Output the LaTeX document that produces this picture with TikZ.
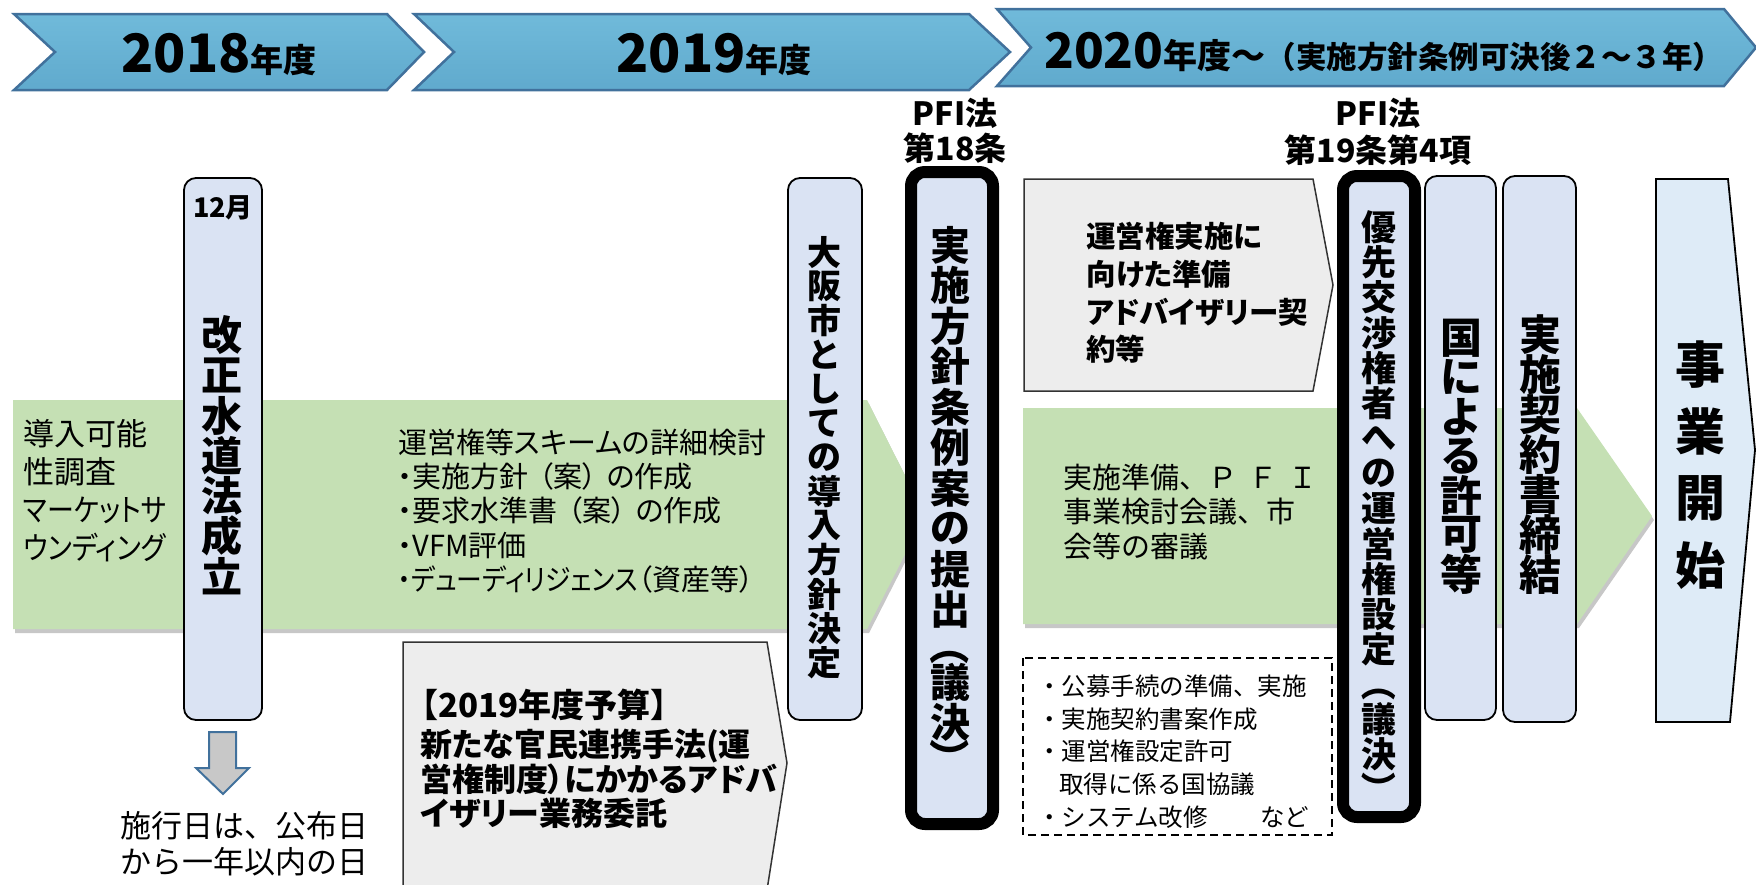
\documentclass[tikz,border=0pt]{standalone}
\usepackage{graphicx}
\usepackage{fontspec}
\setmainfont{Noto Sans CJK JP}
\newfontfamily\jpp{Noto Sans CJK JP}[RawFeature=+palt]
\definecolor{hdrfill}{RGB}{112,186,218}
\definecolor{hdrfillb}{RGB}{96,170,205}
\definecolor{hdrline}{RGB}{65,113,156}
\definecolor{boxblue}{RGB}{218,227,243}
\definecolor{boxbluel}{RGB}{222,235,247}
\definecolor{bandgreen}{RGB}{197,224,180}
\definecolor{graybox}{RGB}{237,237,237}
\definecolor{arrowgray}{RGB}{200,200,200}
\newdimen\vtxstep
\newdimen\vtxhalf
\def\vtxloop#1{\ifx#1\relax\else\vtxitem{#1}\expandafter\vtxloop\fi}
\def\vtxcell#1#2{\hbox to 2em{\hss\vbox to #1{\vss\hbox{#2}\vss}\hss}}
\def\vtxitem#1{\ifx#1（\vtxcell\vtxhalf{\rotatebox[origin=c]{-90}{#1}}\else\ifx#1）\vtxcell\vtxhalf{\rotatebox[origin=c]{-90}{#1}}\else\vtxcell\vtxstep{#1}\fi\fi}
\newcommand\vtx[3]{\vtxstep=#1\relax\vtxhalf=#2\relax\vbox{\offinterlineskip\vtxloop#3\relax}}
\tikzset{
  chev/.style={top color=hdrfill, bottom color=hdrfillb, draw=hdrline, line width=2.5pt},
  band/.style={fill=bandgreen},
  bandshadow/.style={fill=black, opacity=0.22},
  rbox/.style={draw=black, line width=1.8pt, fill=boxblue, rounded corners=12pt},
  kbox/.style={draw=black, line width=12pt, fill=boxblue, rounded corners=14pt},
  gbox/.style={draw=black!80, line width=1.5pt, fill=graybox},
  vlabel/.style={inner sep=0pt, anchor=north},
  txt/.style={inner sep=0pt, anchor=north west, align=left},
}
\begin{document}
\begin{tikzpicture}[x=1pt,y=-1pt]
\useasboundingbox (0,0) rectangle (1756,884);
% header chevrons
\path[chev] (14,14) -- (387,14) -- (424,52) -- (387,90) -- (14,90) -- (55,52) -- cycle;
\path[chev] (414,14) -- (969,14) -- (1010,52) -- (969,90) -- (414,90) -- (454,52) -- cycle;
\path[chev] (997,9) -- (1724,9) -- (1756,47.5) -- (1724,86) -- (997,86) -- (1031,47.5) -- cycle;
\node[inner sep=0, anchor=base] (h1) at (219,72) {\bfseries\fontsize{53}{60}\selectfont 2018\fontsize{33}{40}\selectfont 年度};
\node[inner sep=0, anchor=base] (h2) at (714,72) {\bfseries\fontsize{53}{60}\selectfont 2019\fontsize{33}{40}\selectfont 年度};
\node[inner sep=0, anchor=base west] (h3) at (1044,68) {\bfseries\fontsize{49}{56}\selectfont 2020\fontsize{34}{40}\selectfont 年度～\fontsize{30.5}{34}\selectfont （実施方針条例可決後２～３年）};
% green bands
\fill[bandshadow] (15,404) -- (869,404) -- (927,519) -- (869,633) -- (15,633) -- cycle;
\fill[band] (13,400) -- (867,400) -- (925,515) -- (867,629) -- (13,629) -- cycle;
\fill[bandshadow] (1025,412) -- (1579,412) -- (1654,520) -- (1579,628) -- (1025,628) -- cycle;
\fill[band] (1023,408) -- (1577,408) -- (1652,516) -- (1577,624) -- (1023,624) -- cycle;
\node[txt, font=\jpp\fontsize{31}{38}\selectfont] (t_left) at (23,419.5) {導入可能\\性調査\\\scalebox{0.87}[1]{マーケットサ}\\\scalebox{0.88}[1]{ウンディング}};
\node[txt, font=\jpp\fontsize{29}{34.3}\selectfont] (t_scheme) at (398,428.5) {運営権等スキームの詳細検討\\・実施方針\hspace{0.35em}（案）\hspace{0.35em}の作成\\・要求水準書\hspace{0.35em}（案）\hspace{0.35em}の作成\\・VFM評価\\\scalebox{0.89}[1]{・デューディリジェンス}（資産等）};
\node[txt, font=\fontsize{29}{34.5}\selectfont] (t_prep) at (1063,463.5) {実施準備、Ｐ\hspace{11pt}Ｆ\hspace{11pt}Ｉ\\事業検討会議、市\\会等の審議};
% gray pentagons
\draw[gbox] (403,642) -- (767,642) -- (787,763) -- (767,890) -- (403,890) -- cycle;
\node[txt, font=\bfseries\fontsize{33}{36}\selectfont] (t_budget) at (405,688.5) {【2019年度予算】};
\node[txt, font=\bfseries\jpp\fontsize{32}{33.5}\selectfont] (t_adv) at (420,729) {新たな官民連携手法(運\\営権制度）にかかるアドバ\\イザリー業務委託};
\draw[gbox] (1024,179) -- (1313,179) -- (1333,285) -- (1313,391) -- (1024,391) -- cycle;
\node[txt, font=\bfseries\jpp\fontsize{29.5}{37.7}\selectfont] (t_ready) at (1086,222) {運営権実施に\\向けた準備\\アドバイザリー契\\約等};
% dashed box
\draw[dash pattern=on 8pt off 5pt, line width=1.5pt] (1023,658) rectangle (1332,835);
\node[txt, font=\fontsize{24.5}{32.7}\selectfont] (t_list) at (1037,674.5) {・公募手続の準備、実施\\・実施契約書案作成\\・運営権設定許可\\\hspace{0.9em}取得に係る国協議\\\makebox[272pt][l]{・システム改修\hfill など}};
% rounded boxes
\draw[rbox] (184,178) rectangle (262,720);
\node[inner sep=0] (t_12) at (223,208) {\bfseries\fontsize{27}{30}\selectfont 12月};
\node[vlabel] (t_kaisei) at (222,315) {\bfseries\fontsize{41}{41}\selectfont\vtx{40.2pt}{20pt}{改正水道法成立}};
\draw[rbox] (788,178) rectangle (862,720);
\node[vlabel] (t_osaka) at (824,235) {\bfseries\fontsize{34}{34}\selectfont\vtx{34.2pt}{20pt}{大阪市としての導入方針決定}};
\draw[kbox] (911,172) rectangle (993,824);
\node[vlabel] (t_jorei) at (950,224.75) {\bfseries\fontsize{40}{40}\selectfont\vtx{40.5pt}{32pt}{実施方針条例案の提出（議決）}};
\draw[kbox] (1343,176) rectangle (1415,817);
\node[vlabel] (t_yusen) at (1379,209.4) {\bfseries\fontsize{35}{35}\selectfont\vtx{35.2pt}{34pt}{優先交渉権者への運営権設定（議決）}};
\draw[rbox] (1425,176) rectangle (1496,720);
\node[vlabel] (t_kuni) at (1461,318) {\bfseries\fontsize{42}{42}\selectfont\vtx{39.4pt}{20pt}{国による許可等}};
\draw[rbox] (1503,176) rectangle (1576,722);
\node[vlabel] (t_keiyaku) at (1540,314) {\bfseries\fontsize{42}{42}\selectfont\vtx{40pt}{20pt}{実施契約書締結}};
% business start
\draw[line width=1.8pt, fill=boxbluel] (1656,179) -- (1728,179) -- (1755,450) -- (1730,722) -- (1656,722) -- cycle;
\node[vlabel] (t_start) at (1700,331) {\bfseries\fontsize{50}{50}\selectfont\vtx{67pt}{20pt}{事業開始}};
% PFI labels
\node[inner sep=0, font=\bfseries\fontsize{32}{36}\selectfont] (t_pfi1) at (955,113) {PFI法};
\node[inner sep=0, font=\bfseries\fontsize{32}{36}\selectfont] (t_art18) at (955,148) {第18条};
\node[inner sep=0, font=\bfseries\fontsize{32}{36}\selectfont] (t_pfi2) at (1378,113) {PFI法};
\node[inner sep=0, font=\bfseries\fontsize{32}{36}\selectfont] (t_art19) at (1378,150) {第19条第4項};
% down arrow
\draw[line width=2pt, draw=hdrline, fill=arrowgray] (209,732) -- (236,732) -- (236,768) -- (249,768) -- (223,794) -- (196,768) -- (209,768) -- cycle;
\node[txt, font=\fontsize{31}{36}\selectfont] (t_sekou) at (120,811.5) {施行日は、公布日\\から一年以内の日};
\end{tikzpicture}
\end{document}
